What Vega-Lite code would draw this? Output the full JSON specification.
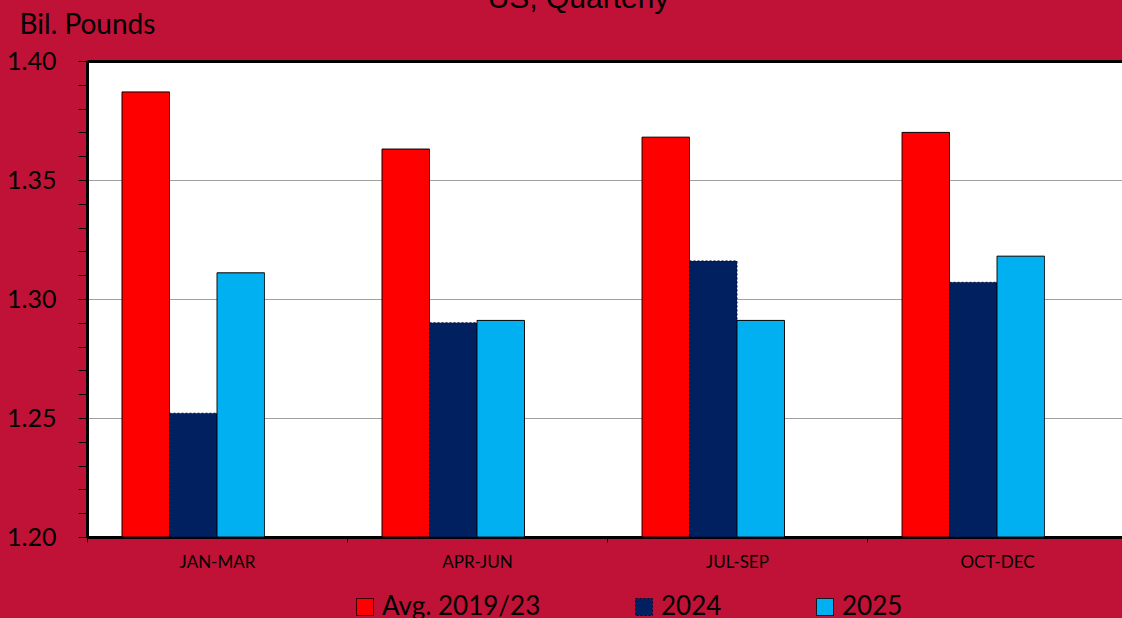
{
  "$schema": "https://vega.github.io/schema/vega-lite/v6.json",
  "autosize": {"type": "none"},
  "width": 1035,
  "height": 476,
  "padding": {"left": 87, "top": 61, "right": 0, "bottom": 81},
  "background": "#C01236",
  "title": {"text": "US, Quarterly", "font": "Liberation Sans", "fontSize": 30, "fontWeight": "normal", "color": "black", "anchor": "middle", "frame": "group", "dx": -26, "offset": -27, "baseline": "alphabetic"},
  "data": {"values": [
    {"quarter": "JAN-MAR", "series": "Avg. 2019/23", "value": 1.387},
    {"quarter": "JAN-MAR", "series": "2024", "value": 1.252},
    {"quarter": "JAN-MAR", "series": "2025", "value": 1.311},
    {"quarter": "APR-JUN", "series": "Avg. 2019/23", "value": 1.363},
    {"quarter": "APR-JUN", "series": "2024", "value": 1.290},
    {"quarter": "APR-JUN", "series": "2025", "value": 1.291},
    {"quarter": "JUL-SEP", "series": "Avg. 2019/23", "value": 1.368},
    {"quarter": "JUL-SEP", "series": "2024", "value": 1.316},
    {"quarter": "JUL-SEP", "series": "2025", "value": 1.291},
    {"quarter": "OCT-DEC", "series": "Avg. 2019/23", "value": 1.370},
    {"quarter": "OCT-DEC", "series": "2024", "value": 1.307},
    {"quarter": "OCT-DEC", "series": "2025", "value": 1.318}
  ]},
  "layer": [
    {
      "mark": {"type": "bar", "strokeWidth": 1},
      "encoding": {
        "x": {"field": "quarter", "type": "nominal", "sort": ["JAN-MAR", "APR-JUN", "JUL-SEP", "OCT-DEC"],
          "scale": {"range": [0, 1040], "paddingInner": 0, "paddingOuter": 0},
          "axis": {"orient": "bottom", "title": null, "labelFont": "Lato", "labelFontSize": 17, "labelColor": "black", "labelPadding": 12, "labelAngle": 0, "tickBand": "extent", "tickSize": 5, "tickColor": "black", "tickWidth": 1, "domainColor": "black", "domainWidth": 3, "grid": false}},
        "xOffset": {"field": "series", "type": "nominal", "scale": {"domain": ["Avg. 2019/23", "2024", "2025", " "], "paddingInner": 0, "paddingOuter": 0.737}},
        "y": {"field": "value", "type": "quantitative",
          "scale": {"domain": [1.2, 1.4], "nice": false, "zero": false},
          "axis": {"title": "Bil. Pounds", "titleAngle": 0, "titleX": -68, "titleY": -28, "titleAlign": "left", "titleBaseline": "alphabetic", "titleFont": "Lato", "titleFontSize": 28, "titleFontWeight": "normal", "titleColor": "black",
            "values": [1.2, 1.21, 1.22, 1.23, 1.24, 1.25, 1.26, 1.27, 1.28, 1.29, 1.3, 1.31, 1.32, 1.33, 1.34, 1.35, 1.36, 1.37, 1.38, 1.39, 1.4],
            "labelExpr": "abs(round(datum.value*20)-datum.value*20)<0.001 ? format(datum.value,'.2f') : ''",
            "labelFont": "Lato", "labelFontSize": 25, "labelColor": "black", "labelPadding": 22, "labelOverlap": false, "labelFlush": false,
            "tickSize": 9, "tickColor": "black", "tickWidth": 1,
            "domainColor": "black", "domainWidth": 3,
            "grid": true, "gridColor": "#A0A0A0", "gridWidth": 1,
            "gridOpacity": {"condition": {"test": "abs(round(datum.value*20)-datum.value*20)<0.001", "value": 1}, "value": 0}}},
        "y2": {"datum": 1.2},
        "fill": {"field": "series", "type": "nominal", "scale": {"domain": ["Avg. 2019/23", "2024", "2025"], "range": ["#FF0000", "#002060", "#00B0F0"]},
          "legend": {"title": null, "orient": "none", "legendX": 265, "legendY": 533, "direction": "horizontal", "symbolType": "square", "symbolSize": 289, "symbolStrokeWidth": 1, "labelFont": "Lato", "labelFontSize": 26, "labelColor": "black", "labelOffset": 4, "columnPadding": 90, "padding": 0, "labelLimit": 400}},
        "stroke": {"field": "series", "type": "nominal", "scale": {"domain": ["Avg. 2019/23", "2024", "2025"], "range": ["#000000", "#000830", "#000000"]}},
        "strokeDash": {"field": "series", "type": "nominal", "scale": {"domain": ["Avg. 2019/23", "2024", "2025"], "range": [[1, 0], [2, 2], [1, 0]]}}
      }
    },
    {
      "mark": {"type": "bar", "opacity": 0},
      "encoding": {
        "x": {"field": "quarter", "type": "nominal", "sort": ["JAN-MAR", "APR-JUN", "JUL-SEP", "OCT-DEC"],
          "axis": {"orient": "top", "title": null, "labels": false, "ticks": false, "domain": true, "domainColor": "black", "domainWidth": 3, "grid": false}},
        "y": {"field": "value", "type": "quantitative", "axis": null},
        "y2": {"datum": 1.2}
      }
    }
  ],
  "resolve": {"axis": {"x": "independent", "y": "independent"}},
  "config": {"view": {"fill": "white", "stroke": null}}
}
